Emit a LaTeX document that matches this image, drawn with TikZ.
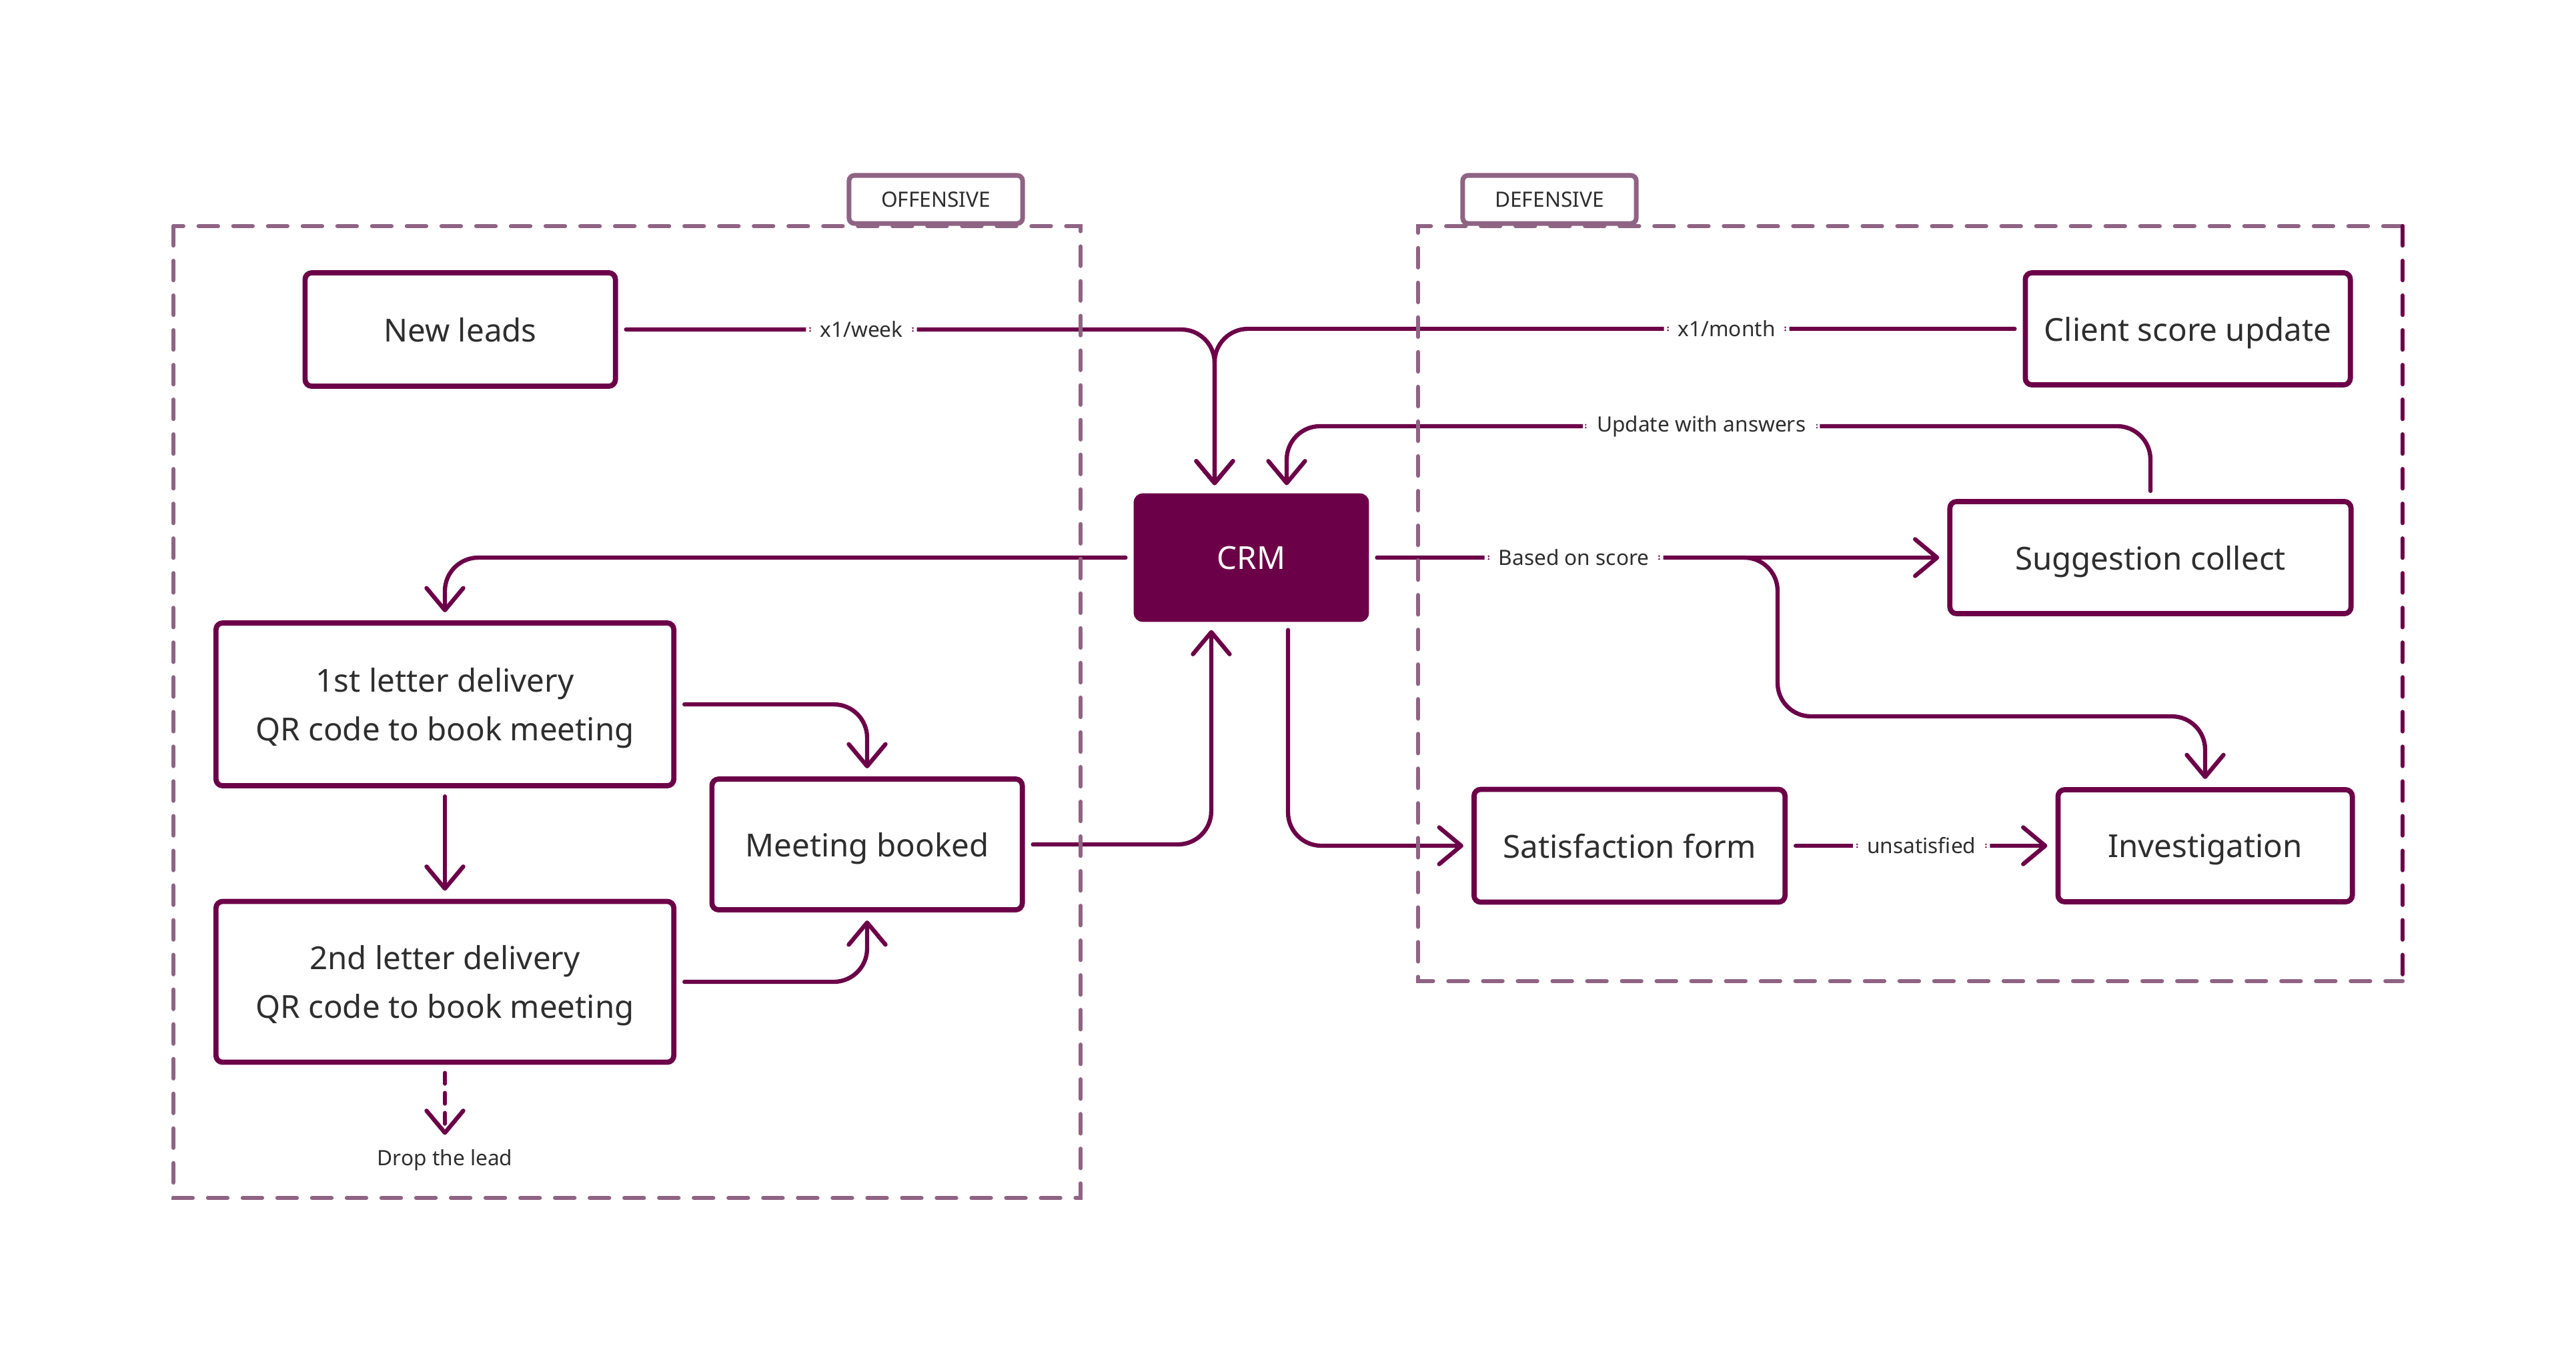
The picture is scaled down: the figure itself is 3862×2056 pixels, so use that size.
\documentclass[tikz,border=0pt]{standalone}
\usepackage{fontspec}
\setmainfont{Noto Sans}
\usetikzlibrary{arrows.meta}

\definecolor{plum}{HTML}{6C0048}
\definecolor{mauve}{HTML}{8F6383}
\definecolor{ink}{HTML}{2E2E2E}

\begin{document}
\begin{tikzpicture}[x=0.01cm,y=-0.01cm,
  >={Straight Barb[length=3.3mm,width=5.5mm,round]},
  box/.style={draw=plum,line width=2.2pt,rounded corners=1mm,fill=white,text=ink,align=center,text depth=0pt,outer sep=1.6mm,font=\fontsize{13.5}{20.7}\selectfont},
  flow/.style={draw=plum,line width=1.8pt,rounded corners=5mm,line cap=round},
  lbl/.style={fill=white,text=ink,inner xsep=6pt,inner ysep=4pt,font=\fontsize{9}{11}\selectfont},
  frame/.style={draw=mauve,line width=1.8pt,line cap=round,dash pattern=on 2.9mm off 2.3mm},
  tab/.style={draw=mauve,line width=2pt,rounded corners=0.8mm,fill=white,text=ink,font=\fontsize{9}{11}\selectfont,minimum width=2.6cm,minimum height=0.72cm}]

\useasboundingbox (0,0) rectangle (3862,2056);

\node[box,minimum width=4.65cm,minimum height=1.70cm] (leads) at (690,494) {New leads};
\node[box,minimum width=4.87cm,minimum height=1.68cm] (score) at (3280,493) {Client score update};
\node[box,fill=plum,text=white,minimum width=3.45cm,minimum height=1.85cm] (crm) at (1876,836) {CRM};
\node[box,minimum width=6.01cm,minimum height=1.68cm] (collect) at (3224,836) {Suggestion collect};
\node[box,minimum width=6.86cm,minimum height=2.44cm] (first) at (667,1056) {1st letter delivery\\QR code to book meeting};
\node[box,minimum width=4.65cm,minimum height=1.96cm] (meeting) at (1300,1266) {Meeting booked};
\node[box,minimum width=6.86cm,minimum height=2.41cm] (second) at (667,1472) {2nd letter delivery\\QR code to book meeting};
\node[box,minimum width=4.66cm,minimum height=1.69cm] (form) at (2443,1268) {Satisfaction form};
\node[box,minimum width=4.41cm,minimum height=1.68cm] (investigation) at (3306,1268) {Investigation};
\node[text=ink,outer sep=1mm,font=\fontsize{9}{11}\selectfont] (drop) at (667,1739) {Drop the lead};

% inputs of the CRM
\draw[flow,->] (leads.east) -| node[lbl,pos=0.2]{x1/week} ([xshift=-0.55cm]crm.north);
\draw[flow,->] (score.west) -| node[lbl,pos=0.18]{x1/month} ([xshift=-0.55cm]crm.north);
\draw[flow,->] (collect.north) -- ++(0,-97) -| node[lbl,pos=0.26]{Update with answers} ([xshift=0.53cm]crm.north);
\draw[flow,->] (meeting.east) -| ([xshift=-0.6cm]crm.south);

% offensive side
\draw[flow,->] (crm.west) -| (first.north);
\draw[flow,->] (first.east) -| (meeting.north);
\draw[flow,->] (second.east) -| (meeting.south);
\draw[flow,->] (first) -- (second);
\draw[flow,->,dash pattern=on 1.6mm off 1.4mm] (second) -- (drop);

% defensive side
\draw[flow,->] (crm.east) -| (2665,1074) -| (investigation.north);
\draw[flow,->] (crm) -- node[lbl,pos=0.35]{Based on score} (collect);
\draw[flow,->] ([xshift=0.55cm]crm.south) |- (form.west);
\draw[flow,->] (form) -- node[lbl]{unsatisfied} (investigation);

% frames
\draw[frame] (260,339) rectangle (1620,1796);
\draw[frame] (3602,339) -- (2126,339) -- (2126,1471) -- (3602,1471);
\draw[frame,draw=plum] (3602,339) -- (3602,1471);
\node[tab] (offensive) at (1403,299) {OFFENSIVE};
\node[tab] (defensive) at (2323,299) {DEFENSIVE};

\end{tikzpicture}
\end{document}
